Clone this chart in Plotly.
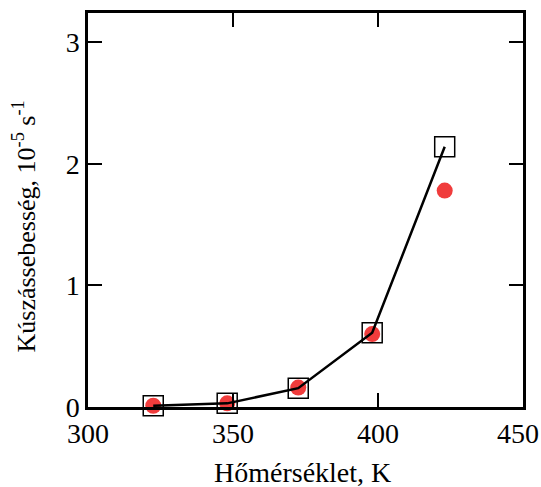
import plotly.graph_objects as go

temp_sq = [322.5, 348, 372.5, 398, 423]
rate_sq = [0.01, 0.03, 0.155, 0.61, 2.14]
temp_ci = [322.5, 348, 372.5, 398, 423]
rate_ci = [0.01, 0.03, 0.16, 0.6, 1.78]
x_ticks = [300, 350, 400, 450]
y_ticks = [0, 1, 2, 3]
x_title = "Hőmérséklet, K"
y_title = "Kúszássebesség, 10<sup>-5</sup> s<sup>-1</sup>"

FONT = "Liberation Serif, Times New Roman, serif"

fig = go.Figure()
fig.add_trace(go.Scatter(
    x=temp_ci, y=rate_ci, mode="markers",
    marker=dict(symbol="circle", size=16, color="rgb(240,60,60)"),
    showlegend=False, cliponaxis=False))
fig.add_trace(go.Scatter(
    x=temp_sq, y=rate_sq, mode="lines+markers",
    line=dict(color="black", width=2.5),
    marker=dict(symbol="square-open", size=20, color="black", line=dict(width=1.5)),
    showlegend=False, cliponaxis=False))

axis_common = dict(showline=True, mirror="ticks", linecolor="black", linewidth=2.5,
                   ticks="inside", ticklen=14, tickwidth=2, tickcolor="black",
                   showgrid=False, zeroline=False, automargin=False,
                   tickfont=dict(family=FONT, size=28, color="black"))

# last x tick label is placed separately so that it stays inside the page
x_ticktext = [str(v) for v in x_ticks[:-1]] + [""]
fig.update_xaxes(range=[300, 450], tickvals=x_ticks, ticktext=x_ticktext,
                 **axis_common)
fig.update_yaxes(range=[0, 3.24], tickvals=y_ticks, ticktext=[str(v) for v in y_ticks],
                 **axis_common)

fig.add_annotation(text=str(x_ticks[-1]), xref="x", yref="paper", x=x_ticks[-1], y=-0.066,
                   xanchor="center", yanchor="middle", xshift=-5, showarrow=False,
                   font=dict(family=FONT, size=28, color="black"))
fig.add_annotation(text=x_title, xref="paper", yref="paper", x=0.494, y=-0.165,
                   xanchor="center", yanchor="middle", showarrow=False,
                   font=dict(family=FONT, size=28, color="black"))
fig.add_annotation(text=y_title, xref="paper", yref="paper", x=-0.145, y=0.458,
                   xanchor="center", yanchor="middle", showarrow=False, textangle=-90,
                   font=dict(family=FONT, size=26, color="black"))

fig.update_layout(width=541, height=487, margin=dict(l=88, r=18, t=13, b=80),
                  plot_bgcolor="white", paper_bgcolor="white")

fig.write_html("out.html")
